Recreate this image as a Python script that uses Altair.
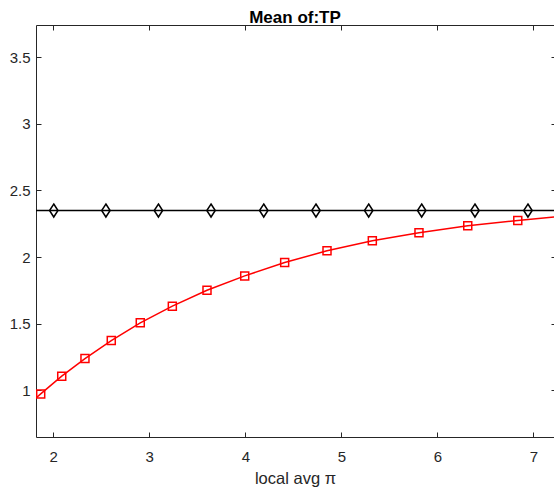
import altair as alt
import pandas as pd

# ---- data ----
red_x = [1.869, 2.088, 2.330, 2.604, 2.906, 3.240, 3.601, 3.994, 4.410, 4.851, 5.323, 5.809, 6.317, 6.838]
red_y = [0.974, 1.107, 1.239, 1.374, 1.507, 1.632, 1.751, 1.859, 1.959, 2.047, 2.122, 2.182, 2.234, 2.274]
# curve continues to the plot edges
red_line_x = [1.82] + red_x + [7.22]
red_line_y = [0.944] + red_y + [2.300]

black_x = [2.005, 2.548, 3.095, 3.643, 4.192, 4.736, 5.285, 5.837, 6.392, 6.944]
black_y = [2.349] * len(black_x)
black_line_x = [1.82] + black_x + [7.22]
black_line_y = [2.349] * len(black_line_x)

x_ticks = [2, 3, 4, 5, 6, 7]
y_ticks = [1, 1.5, 2, 2.5, 3, 3.5]
x_domain = [1.82, 7.2153]
y_domain = [0.651, 3.740]

title_text = "Mean of:TP"
x_title = "local avg \u03c0"

W, H = 518, 412
FONT = "Liberation Sans"
AX = "#262626"

red_pts = pd.DataFrame({"x": red_x, "y": red_y})
red_line = pd.DataFrame({"x": red_line_x, "y": red_line_y})
blk_pts = pd.DataFrame({"x": black_x, "y": black_y})
blk_line = pd.DataFrame({"x": black_line_x, "y": black_line_y})

xs = alt.Scale(domain=x_domain, nice=False, zero=False)
ys = alt.Scale(domain=y_domain, nice=False, zero=False)

# red line: bottom/left axes with labels and domain lines
red_l = alt.Chart(red_line).mark_line(color="#ff0000", strokeWidth=1.5, clip=True).encode(
    x=alt.X("x:Q", scale=xs, axis=alt.Axis(orient="bottom", values=x_ticks, format="~g",
                                           ticks=False, domain=True, labelPadding=12,
                                           title=x_title, titlePadding=6)),
    y=alt.Y("y:Q", scale=ys, axis=alt.Axis(orient="left", values=y_ticks, format="~g",
                                           ticks=False, domain=True, labelPadding=6, title=None)),
)

# red squares: inward ticks on bottom/left
red_p = alt.Chart(red_pts).mark_point(shape="square", size=64, filled=False, color="#ff0000",
                                      strokeWidth=1.5, opacity=1, clip=True).encode(
    x=alt.X("x:Q", scale=xs, axis=alt.Axis(orient="bottom", values=x_ticks, offset=-5, tickSize=5,
                                           labels=False, domain=False, title=None)),
    y=alt.Y("y:Q", scale=ys, axis=alt.Axis(orient="left", values=y_ticks, offset=-5, tickSize=5,
                                           labels=False, domain=False, title=None)),
)

# black line: top domain, right inward ticks
blk_l = alt.Chart(blk_line).mark_line(color="#000000", strokeWidth=1.5, clip=True).encode(
    x=alt.X("x:Q", scale=xs, axis=alt.Axis(orient="top", values=x_ticks, ticks=False,
                                           labels=False, domain=True, title=None)),
    y=alt.Y("y:Q", scale=ys, axis=alt.Axis(orient="right", values=y_ticks, offset=-3, tickSize=3,
                                           labels=False, domain=False, title=None)),
)

# black diamonds: top inward ticks
blk_p = alt.Chart(blk_pts).mark_point(shape="M0,-1L0.65,0L0,1L-0.65,0Z", size=169, filled=False,
                                      color="#000000", strokeWidth=1.5, opacity=1, clip=True).encode(
    x=alt.X("x:Q", scale=xs, axis=alt.Axis(orient="top", values=x_ticks, offset=-5, tickSize=5,
                                           labels=False, domain=False, title=None)),
    y=alt.Y("y:Q", scale=ys, axis=None),
)

chart = alt.layer(red_l, blk_l, red_p, blk_p).resolve_axis(
    x="independent", y="independent"
).properties(
    width=W, height=H,
    title=alt.TitleParams(title_text, fontSize=17, fontWeight="bold", font=FONT, color="#000000",
                          offset=-15, baseline="alphabetic", anchor="middle", frame="group"),
    autosize=alt.AutoSizeParams(type="none"),
    padding={"left": 36, "top": 25, "right": 0, "bottom": 52},
    background="white",
).configure_view(stroke=None).configure_axis(
    grid=False, domainColor=AX, domainWidth=1, tickColor=AX, tickWidth=1,
    labelFont=FONT, labelFontSize=15, labelColor=AX,
    titleFont=FONT, titleFontSize=16.5, titleColor=AX, titleFontWeight="normal",
)

chart.save("out.html", embed_options={"renderer": "svg", "actions": False})
